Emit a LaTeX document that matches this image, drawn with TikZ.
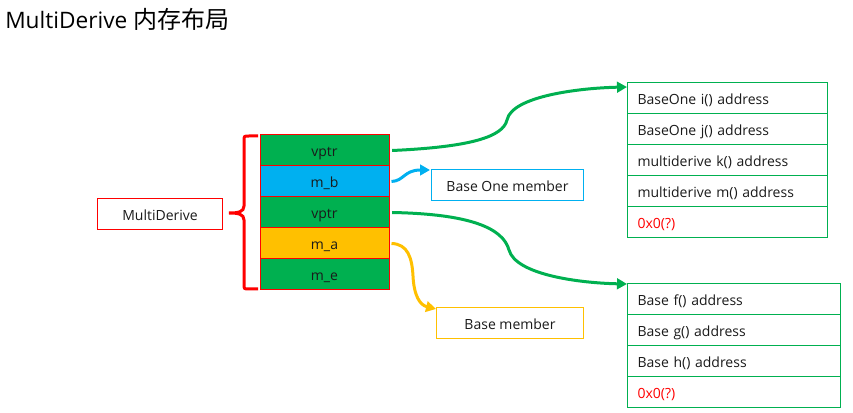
\documentclass[tikz,border=0pt]{standalone}
\usepackage{fontspec}
\setmainfont{Open Sans}
\newfontfamily\cjk{Noto Sans CJK SC}
\usetikzlibrary{arrows.meta}
\definecolor{vgreen}{HTML}{00B050}
\definecolor{vblue}{HTML}{00B0F0}
\definecolor{vyellow}{HTML}{FFC000}
\definecolor{vred}{HTML}{FF0000}
\definecolor{vtext}{HTML}{1A1A1A}
\begin{document}
\begin{tikzpicture}[x=0.75pt,y=-0.75pt,
  bodyfont/.style={font=\fontsize{10.5}{12}\selectfont, text height=10.5pt, text depth=1pt},
  cell/.style={draw=vred, line width=0.75pt, minimum width=96.75pt, minimum height=23.25pt, inner sep=0pt, text=vtext, bodyfont},
  rowbox/.style={draw=vgreen, line width=0.75pt, minimum height=23.25pt, inner xsep=7.5pt, inner ysep=0pt, align=left, anchor=north west, text=vtext, bodyfont},
  labbox/.style={line width=0.75pt, inner sep=0pt, anchor=north west, text=vtext, bodyfont},
  conn/.style={line width=2.25pt, -{Triangle[length=7.5pt,width=8pt]}},
]
\useasboundingbox (0,0) rectangle (853,413);
% title
\node[anchor=base west, inner sep=0pt, text=black, font=\fontsize{17}{20}\selectfont] (title) at (5,29) {MultiDerive {\cjk\fontsize{18}{20}\selectfont 内存布局}};
% stack
\node[cell, fill=vgreen] (v1) at (324.5,150.5) {vptr};
\node[cell, fill=vblue] (mb) at (324.5,181.5) {m\_b};
\node[cell, fill=vgreen] (v2) at (324.5,212.5) {vptr};
\node[cell, fill=vyellow] (ma) at (324.5,243.5) {m\_a};
\node[cell, fill=vgreen] (me) at (324.5,274.5) {m\_e};
% MultiDerive label
\node[labbox, draw=vred, minimum width=93.75pt, minimum height=23.25pt] (md) at (97,198) {MultiDerive};
% brace
\draw[vred, line width=2.25pt] (258,136) -- (249,136) .. controls (244,136) .. (244,141) -- (244,206)
  .. controls (244,212) and (238,213) .. (229,213)
  .. controls (238,213) and (244,214) .. (244,220) -- (244,284)
  .. controls (244,289) .. (249,289) -- (258,289);
% label boxes
\node[labbox, draw=vblue, minimum width=114pt, minimum height=23.25pt] (bo) at (431,169) {Base One member};
\node[labbox, draw=vyellow, minimum width=110.25pt, minimum height=23.25pt] (bm) at (436,307) {Base member};
% top table
\node[rowbox, text width=135pt] (t1) at (627,82) {BaseOne i() address};
\node[rowbox, text width=135pt] (t2) at (627,113) {BaseOne j() address};
\node[rowbox, text width=135pt] (t3) at (627,144) {multiderive k() address};
\node[rowbox, text width=135pt] (t4) at (627,175) {multiderive m() address};
\node[rowbox, text width=135pt, text=vred] (t5) at (627,206) {0x0(?)};
% bottom table
\node[rowbox, text width=144.75pt] (b1) at (627,283) {Base f() address};
\node[rowbox, text width=144.75pt] (b2) at (627,314) {Base g() address};
\node[rowbox, text width=144.75pt] (b3) at (627,345) {Base h() address};
\node[rowbox, text width=144.75pt, text=vred] (b4) at (627,376) {0x0(?)};
% connectors
\draw[conn, vgreen] ([xshift=2pt]v1.east) .. controls (470,147) and (503,137) .. (507,120)
  .. controls (512,96) and (580,88) .. ([yshift=-3.75pt]t1.north west);
\draw[conn, vgreen] ([xshift=2pt]v2.east) .. controls (470,214) and (503,228) .. (509,250)
  .. controls (516,275) and (580,283) .. ([yshift=-0.75pt]b1.north west);
\draw[conn, vblue] ([xshift=1.5pt]mb.east) .. controls (404,181) and (404,170) .. ([xshift=-0.75pt,yshift=-0.75pt]bo.north west);
\draw[conn, vyellow] ([xshift=1.5pt]ma.east) .. controls (408,244) and (412,258) .. (413,276)
  .. controls (414,296) and (420,305) .. ([yshift=-1.5pt]bm.north west);
\end{tikzpicture}
\end{document}
